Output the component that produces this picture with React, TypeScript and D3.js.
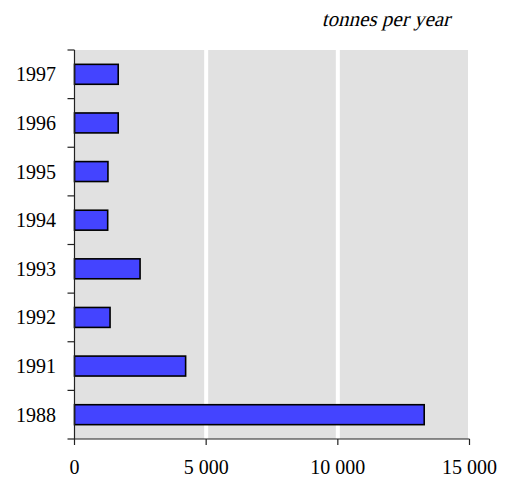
import React from "react";
import * as d3 from "d3";

const years = ["1988", "1991", "1992", "1993", "1994", "1995", "1996", "1997"];
const tonnes = [13280, 4220, 1350, 2490, 1260, 1270, 1660, 1660];
const xTicks = [0, 5000, 10000, 15000];
const unitLabel = "tonnes per year";

const W = 508;
const H = 477;
const left = 74.5;
const right = 469.5;
const top = 50;
const bottom = 439;

export default function App() {
  const x = d3.scaleLinear().domain([0, 15000]).range([left, right]);
  const order = years.slice().reverse();
  const y = d3
    .scaleBand<string>()
    .domain(order)
    .range([top, bottom])
    .paddingInner(0.59)
    .paddingOuter(0.295);
  const step = y.step();
  const fmt = (v: number) => d3.format(",")(v).replace(/,/g, " ");
  const font = "'Liberation Serif', 'Times New Roman', serif";
  const boundaries = d3.range(order.length + 1).map((i) => top + i * step);

  return (
    <svg width={W} height={H} style={{ position: "absolute", left: 0, top: 0 }}>
      <rect x={left} y={top} width={x(15000) - left - 1.5} height={bottom - top} fill="#e1e1e1" />
      {xTicks.slice(1, -1).map((t) => (
        <line key={t} x1={x(t)} x2={x(t)} y1={top} y2={bottom} stroke="#ffffff" strokeWidth={4} />
      ))}
      {years.map((yr, i) => (
        <rect
          key={yr}
          x={x(0)}
          y={y(yr)!}
          width={x(tonnes[i]) - x(0)}
          height={y.bandwidth()}
          fill="#4444ff"
          stroke="#000"
          strokeWidth={1.6}
        />
      ))}
      <line x1={left} x2={left} y1={top} y2={bottom} stroke="#222" strokeWidth={1.2} />
      {boundaries.map((b, i) => (
        <line key={i} x1={left - 7} x2={left} y1={b} y2={b} stroke="#222" strokeWidth={1.2} />
      ))}
      <line x1={left} x2={x(15000)} y1={bottom} y2={bottom} stroke="#222" strokeWidth={1.2} />
      {xTicks.map((t) => (
        <line key={t} x1={x(t)} x2={x(t)} y1={bottom} y2={bottom + 6} stroke="#222" strokeWidth={1.2} />
      ))}
      {order.map((yr) => (
        <text
          key={yr}
          x={56}
          y={y(yr)! + y.bandwidth() / 2}
          dy="0.35em"
          textAnchor="end"
          fontFamily={font}
          fontSize={20}
          fill="#000"
        >
          {yr}
        </text>
      ))}
      {xTicks.map((t) => (
        <text
          key={t}
          x={x(t)}
          y={474}
          textAnchor="middle"
          fontFamily={font}
          fontSize={20}
          fill="#000"
        >
          {fmt(t)}
        </text>
      ))}
      <g transform="translate(450,26) skewX(-14)">
        <text x={0} y={0} textAnchor="end" fontFamily={font} fontSize={21} fill="#000">
          {unitLabel}
        </text>
      </g>
    </svg>
  );
}
